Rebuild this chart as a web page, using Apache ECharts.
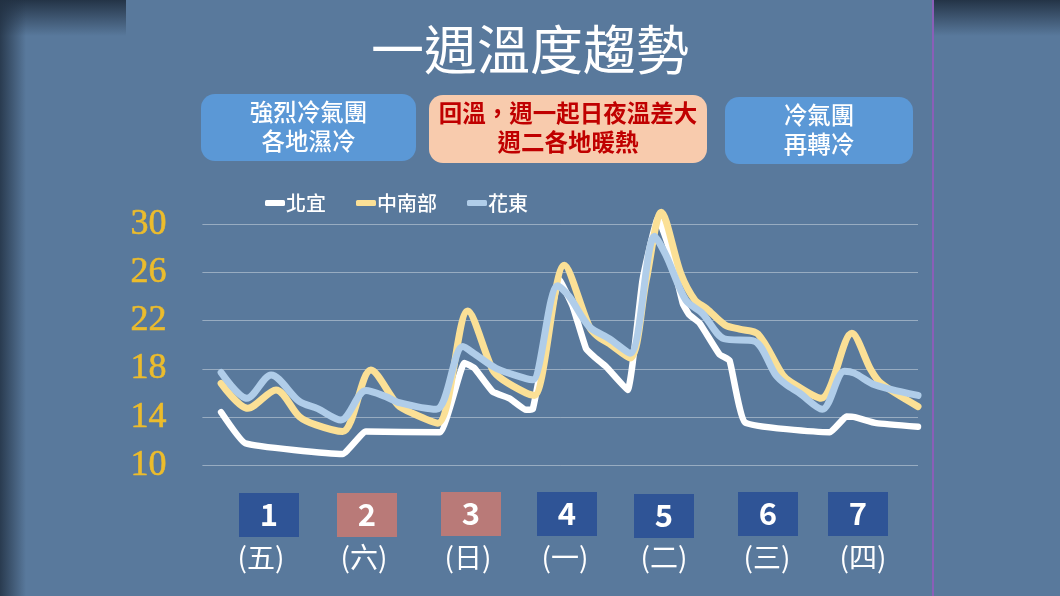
<!DOCTYPE html>
<html><head><meta charset="utf-8">
<style>html,body{margin:0;padding:0;background:#59799c}#c{width:1060px;height:596px}</style>
<script src="https://cdn.jsdelivr.net/npm/echarts@6/dist/echarts.min.js"></script>
</head><body><div id="c"></div>
<script>
const titleText = '一週溫度趨勢';
const seriesNames = ['北宜', '中南部', '花東'];
const dayNumbers = ['1','2','3','4','5','6','7'];
const weekdays = ['(五)','(六)','(日)','(一)','(二)','(三)','(四)'];
const notes = ['強烈冷氣團\n各地濕冷', '回溫，週一起日夜溫差大\n週二各地暖熱', '冷氣團\n再轉冷'];

const northHours = [0.5,6.3,29.7,35.3,53,59,61.4,65.8,69.8,73.8,75.4,81.8,85,88.2,90.2,93,98.2,101.8,105.5,108.3,111.5,113,115.5,120.3,122.7,126.4,146.8,150.8,152.8,158,168];
const northTemps = [14.4,11.83,10.94,12.8,12.74,18.5,18.05,16.1,15.56,14.6,14.65,25.4,23.2,19.7,19,18.2,16.25,25.4,30.5,27.9,23.4,22.5,21.8,19.2,18.7,13.57,12.74,14.04,14,13.5,13.2];

const centralHours = [0.5,6.9,13.7,19.3,23.3,29.7,36.5,43,46.6,52.6,59.8,65.8,68.2,73.8,75.8,83,89,91,93.8,98.8,102.7,106.3,111,114.4,117.2,121.6,125.1,129.5,135.5,137.5,144.7,152.1,156.7,159.1,168];
const centralTemps = [16.8,14.73,16.25,14.04,13.35,12.8,17.9,15,14.3,13.5,22.8,17.9,17.1,16,15.8,26.6,21.5,20.7,20.1,18.9,25.4,31,25.9,23.7,23,21.65,21.3,20.9,17.5,16.9,15.56,20.95,17.9,16.8,14.87];

const eastHours = [0.5,6.7,12.5,19.3,23.7,29.3,35.3,40.1,43.3,52.2,58.6,61.8,66.6,73.8,75.4,81.4,84.2,89,93.8,98.8,104.7,107.4,112.2,116.2,121.4,128.7,133.8,136.3,139.5,145,150.3,152.7,157.1,161.5,168];
const eastTemps = [17.7,15.56,17.5,15.3,14.7,13.76,16.2,15.7,15.2,14.65,19.85,19.15,18.05,17.2,17.1,24.9,24,21.5,20.5,19.3,29,27.45,23.7,22.6,20.5,20.3,17.5,16.7,16,14.65,17.8,17.65,16.75,16.3,15.8];

const zip = (xs, ys) => xs.map((x, i) => [x, ys[i]]);
const FONT = '"Noto Sans CJK TC","Noto Sans",sans-serif';
const PANEL = '#59799c';

const dayBoxes = [[239,493,'#2f5496'],[337,493,'#b97a78'],[441,492,'#b97a78'],[537,492,'#2f5496'],[634,494,'#2f5496'],[738,492,'#2f5496'],[828,492,'#2f5496']];
const weekdayX = [261,364,468,565,664,767,863];
const noteBoxes = [[201,94,215,67,'#5b98d6','#ffffff',500],[429,95,278,68,'#f8cbad','#c00000',700],[725,97,188,67,'#5b98d6','#ffffff',500]];

const shade = (x, y, w, h, g) => ({type:'rect',silent:true,z:-5,shape:{x,y,width:w,height:h},style:{fill:g}});
const vGrad = {type:'linear',x:0,y:0,x2:0,y2:1,colorStops:[{offset:0,color:'rgba(33,48,66,0.95)'},{offset:1,color:'rgba(33,48,66,0)'}]};
const hGrad = {type:'linear',x:0,y:0,x2:1,y2:0,colorStops:[{offset:0,color:'rgba(33,48,66,0.85)'},{offset:1,color:'rgba(33,48,66,0)'}]};

const graphics = [
  shade(0,0,126,36,vGrad), shade(0,0,26,596,hGrad), shade(934,0,126,36,vGrad),
  {type:'rect',silent:true,z:-4,shape:{x:126,y:0,width:807,height:596},style:{fill:PANEL}},
  {type:'rect',silent:true,z:-3,shape:{x:932,y:0,width:2,height:596},style:{fill:'#8a5fb8'}},
  {type:'text',x:530,y:50,style:{text:titleText,font:'400 53px '+FONT,fill:'#fff',textAlign:'center',textVerticalAlign:'middle'}}
];
noteBoxes.forEach((b, i) => {
  graphics.push({type:'rect',shape:{x:b[0],y:b[1],width:b[2],height:b[3],r:14},style:{fill:b[4]}});
  graphics.push({type:'text',x:b[0]+b[2]/2,y:b[1]+b[3]/2-1,style:{text:notes[i],font:b[6]+' 23.5px '+FONT,lineHeight:29,fill:b[5],textAlign:'center',textVerticalAlign:'middle'}});
});
dayBoxes.forEach((b, i) => {
  graphics.push({type:'rect',shape:{x:b[0],y:b[1],width:60,height:44},style:{fill:b[2]}});
  graphics.push({type:'text',x:b[0]+30,y:b[1]+21,style:{text:dayNumbers[i],font:'700 31px '+FONT,fill:'#fff',textAlign:'center',textVerticalAlign:'middle'}});
  graphics.push({type:'text',x:weekdayX[i],y:557,style:{text:weekdays[i],font:'400 28px '+FONT,fill:'#fff',textAlign:'center',textVerticalAlign:'middle'}});
});

const lineSeries = (name, xs, ys, color, z, smooth, width) => ({
  name, type:'line', data:zip(xs, ys), smooth, showSymbol:false, z, clip:false,
  lineStyle:{color, width, cap:'round', join:'round'}, itemStyle:{color}
});

const chart = echarts.init(document.getElementById('c'), null, {renderer:'canvas'});
chart.setOption({
  animation:false,
  backgroundColor:PANEL,
  grid:{left:202.4,top:224.3,width:715.6,height:241,containLabel:false},
  legend:{
    left:260, top:188, itemWidth:20, itemHeight:6, itemGap:30, icon:'roundRect',
    data:seriesNames, textStyle:{color:'#fff',fontSize:20,fontWeight:500,fontFamily:FONT,padding:[0,0,0,-4]}
  },
  xAxis:{type:'value',min:-4,max:168,show:false},
  yAxis:{type:'value',min:10,max:30,interval:4,
    axisLine:{show:false},axisTick:{show:false},
    axisLabel:{color:'#ecbc2c',fontSize:36,fontFamily:'"Liberation Serif",serif',margin:36,padding:[3,0,0,0],textBorderColor:'#ecbc2c',textBorderWidth:0.6},
    splitLine:{lineStyle:{color:'rgba(255,255,255,0.38)',width:1}}
  },
  graphic:graphics,
  series:[
    lineSeries(seriesNames[0], northHours, northTemps, '#ffffff', 3, 0.12, 6.5),
    lineSeries(seriesNames[1], centralHours, centralTemps, '#fbe096', 4, 0.3, 7),
    lineSeries(seriesNames[2], eastHours, eastTemps, '#b0cde9', 5, 0.3, 7)
  ]
});
</script></body></html>
